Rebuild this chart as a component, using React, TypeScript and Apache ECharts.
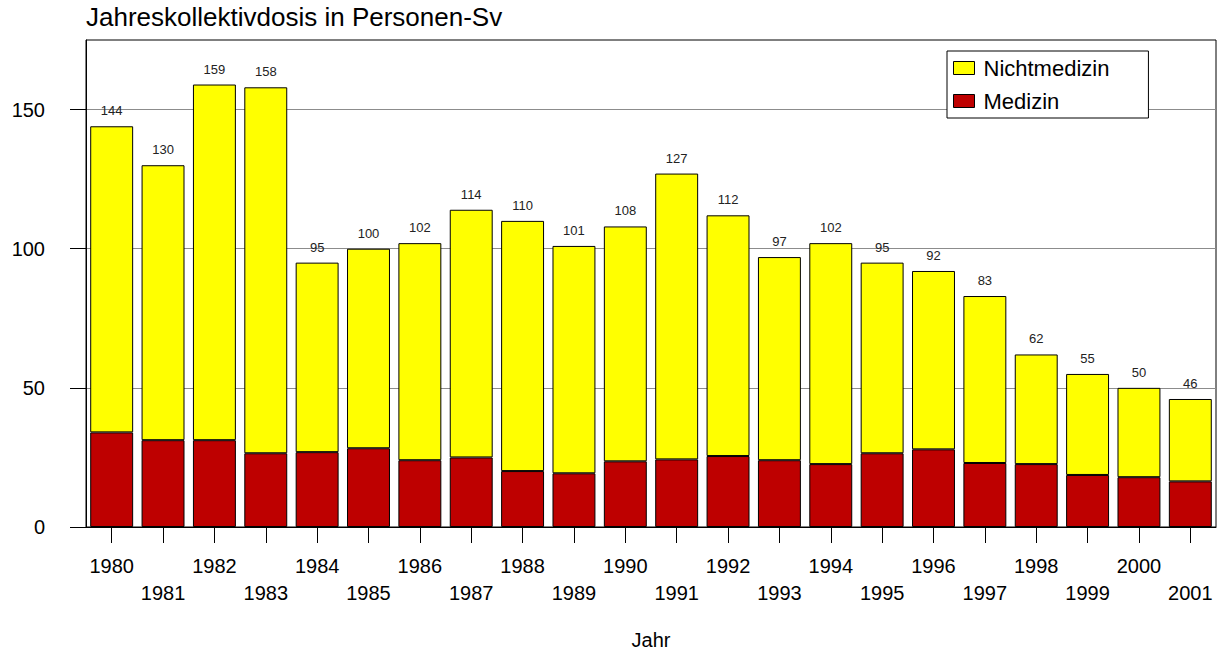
import React, { useEffect, useRef } from "react";
import * as echarts from "echarts";

const years = ["1980","1981","1982","1983","1984","1985","1986","1987","1988","1989","1990","1991","1992","1993","1994","1995","1996","1997","1998","1999","2000","2001"];
const totals = [144,130,159,158,95,100,102,114,110,101,108,127,112,97,102,95,92,83,62,55,50,46];
const medizin = [34.0,31.2,31.2,26.5,26.9,28.3,24.0,25.0,20.1,19.3,23.6,24.3,25.5,24.0,22.6,26.5,27.9,23.0,22.6,18.7,17.9,16.4];
const nichtmedizin = [110.0,98.8,127.8,131.5,68.1,71.7,78.0,89.0,89.9,81.7,84.4,102.7,86.5,73.0,79.4,68.5,64.1,60.0,39.4,36.3,32.1,29.6];
const yTicks = [0, 50, 100, 150];

const FONT = "'Liberation Sans', Arial, Helvetica, sans-serif";

export default function App() {
  const ref = useRef<HTMLDivElement>(null);
  useEffect(() => {
    document.body.style.margin = "0";
    const chart = echarts.init(ref.current!, null, { renderer: "svg" });
    chart.setOption({
      animation: false,
      backgroundColor: "#ffffff",
      textStyle: { fontFamily: FONT },
      title: {
        text: "Jahreskollektivdosis in Personen-Sv",
        left: 86,
        top: 4,
        padding: 0,
        textStyle: { fontFamily: FONT, fontSize: 26, fontWeight: "normal", color: "#000" },
      },
      grid: {
        left: 86,
        right: 5,
        top: 40,
        bottom: 126,
        outerBoundsMode: "none",
        containLabel: false,
        show: true,
        borderColor: "#000",
        borderWidth: 1,
        backgroundColor: "transparent",
      },
      legend: {
        orient: "vertical",
        left: 947,
        top: 51,
        data: ["Nichtmedizin", "Medizin"],
        icon: "rect",
        itemWidth: 21,
        itemHeight: 13,
        itemGap: 9,
        itemStyle: { borderColor: "#000", borderWidth: 1 },
        padding: [5, 39, 5, 6],
        backgroundColor: "#fff",
        borderColor: "#000",
        borderWidth: 1,
        borderRadius: 0,
        textStyle: { fontFamily: FONT, fontSize: 22, color: "#000", lineHeight: 24, padding: [0, 0, 0, 4] },
      },
      xAxis: {
        type: "category",
        data: years,
        boundaryGap: true,
        name: "Jahr",
        nameLocation: "middle",
        nameGap: 103,
        nameTextStyle: { fontFamily: FONT, fontSize: 20, color: "#000" },
        axisLine: { show: true, lineStyle: { color: "#000", width: 1 } },
        axisTick: { show: true, alignWithLabel: true, length: 16, lineStyle: { color: "#000" } },
        axisLabel: {
          interval: 0,
          margin: 25,
          fontFamily: FONT,
          fontSize: 20,
          lineHeight: 27,
          color: "#000",
          formatter: (v: string, i: number) => (i % 2 === 1 ? "\n" + v : v),
        },
        splitLine: { show: false },
      },
      yAxis: {
        type: "value",
        min: 0,
        max: 175,
        interval: 50,
        axisLine: { show: true, lineStyle: { color: "#000" } },
        axisTick: { show: true, length: 16, lineStyle: { color: "#000" }, customValues: yTicks },
        axisLabel: {
          margin: 41,
          fontFamily: FONT,
          fontSize: 20,
          color: "#000",
          customValues: yTicks,
        },
        splitLine: { show: true, lineStyle: { color: "#8c8c8c", width: 1 } },
      },
      series: [
        {
          name: "Medizin",
          type: "bar",
          stack: "t",
          data: medizin,
          barWidth: "83.6%",
          itemStyle: { color: "#BE0000", borderColor: "#000", borderWidth: 1 },
        },
        {
          name: "Nichtmedizin",
          type: "bar",
          stack: "t",
          data: nichtmedizin,
          barWidth: "83.6%",
          itemStyle: { color: "#FFFF00", borderColor: "#000", borderWidth: 1 },
          label: {
            show: true,
            position: "top",
            distance: 9,
            fontFamily: FONT,
            fontSize: 13,
            color: "#222",
            formatter: (p: any) => String(totals[p.dataIndex]),
          },
        },
      ],
    });
    return () => chart.dispose();
  }, []);
  return <div ref={ref} style={{ position: "absolute", left: 0, top: 0, width: 1221, height: 653 }} />;
}
